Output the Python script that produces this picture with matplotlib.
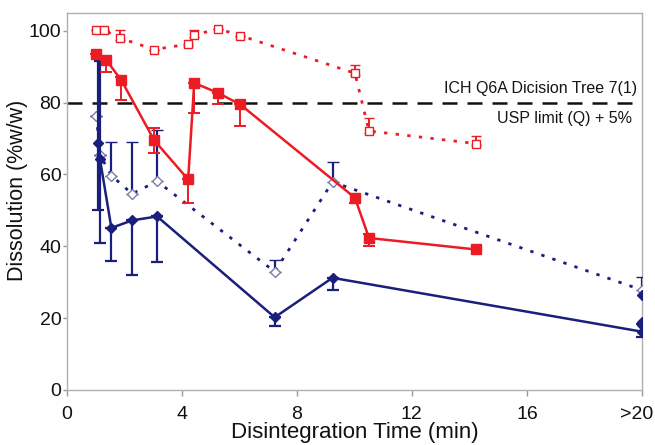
import matplotlib
matplotlib.use("Agg")
import matplotlib.pyplot as plt
import matplotlib.transforms as mtransforms
import numpy as np

plt.rcParams['font.family'] = ['Liberation Sans', 'DejaVu Sans']

# Red solid (filled squares)
rs_x = [1.03, 1.36, 1.9, 3.04, 4.22, 4.43, 5.26, 6.03, 10.02, 10.51, 14.22]
rs_y = [93.6, 92.0, 86.2, 69.5, 58.6, 85.5, 82.7, 79.5, 53.5, 42.3, 39.1]
rs_lo = [0, 3.6, 5.5, 3.5, 6.5, 8.5, 3.2, 6.0, 1.5, 2.3, 0]
rs_hi = [0, 0, 1.0, 3.5, 0, 0, 0, 0, 1.0, 1.0, 0]

# Red dotted (open squares)
rd_x = [1.03, 1.3, 1.85, 3.04, 4.22, 4.43, 5.26, 6.03, 10.02, 10.51, 14.22]
rd_y = [100.3, 100.2, 98.0, 94.8, 96.3, 98.8, 100.6, 98.7, 88.2, 72.1, 68.6]
rd_lo = [0, 0, 0.5, 0, 0.5, 0.5, 0, 0, 0.5, 0.5, 0.5]
rd_hi = [0, 0, 2.3, 0, 0, 1.5, 0, 0, 2.2, 3.6, 2.0]

# Blue solid (filled diamonds)
bs_x = [1.09, 1.15, 1.55, 2.27, 3.14, 7.23, 9.24, 20]
bs_y = [68.7, 64.4, 45.1, 47.2, 48.3, 20.2, 31.2, 16.2]
bs_lo = [18.7, 23.5, 9.3, 15.3, 12.8, 2.4, 3.4, 1.6]
bs_hi = [23.9, 27.3, 0, 0, 0, 0, 0, 2.0]
bs_extra_x = [20, 20]
bs_extra_y = [18.1, 19.0]

# Blue dotted (open diamonds)
bd_x = [1.03, 1.15, 1.55, 2.27, 3.14, 7.23, 9.24, 20]
bd_y = [76.4, 65.5, 59.7, 54.6, 58.1, 32.9, 57.9, 27.8]
bd_lo = [0, 0, 0, 0, 0, 0, 0, 0]
bd_hi = [0, 0, 9.3, 14.4, 14.3, 3.4, 5.5, 3.5]
bd_extra_x = [20]
bd_extra_y = [26.4]

x_ticks = [0, 4, 8, 12, 16, 20]
x_ticklabels = ['0', '4', '8', '12', '16', '>20']
y_ticks = [0, 20, 40, 60, 80, 100]

red = '#ec1c24'
blue = '#1b1f7c'

fig = plt.figure(figsize=(6.55, 4.45), dpi=100)
ax = fig.add_axes([0.102, 0.124, 0.878, 0.847])

ax.axhline(80, color='#111111', lw=1.8, ls=(0, (6, 4)), zorder=1)

# blue dotted
ax.errorbar(bd_x, bd_y, yerr=[bd_lo, bd_hi], color=blue, lw=2.0, ls=(0, (1.2, 3)),
            marker='D', ms=5, mfc='white', mec='#7a7fa8', mew=1.0,
            ecolor=blue, elinewidth=1.6, capsize=4, capthick=1.6, zorder=3)
ax.plot(bd_extra_x, bd_extra_y, ls='none', marker='D', ms=5, color=blue, zorder=4)

# blue solid
ax.errorbar(bs_x, bs_y, yerr=[bs_lo, bs_hi], color=blue, lw=1.8, ls='-',
            marker='D', ms=5, mfc=blue, mec=blue,
            ecolor=blue, elinewidth=1.6, capsize=4, capthick=1.6, zorder=4)
ax.plot(bs_extra_x, bs_extra_y, ls='none', marker='D', ms=5, color=blue, zorder=4)

# red dotted
ax.errorbar(rd_x, rd_y, yerr=[rd_lo, rd_hi], color=red, lw=2.0, ls=(0, (1.2, 3)),
            marker='s', ms=6, mfc='white', mec=red, mew=1.0,
            ecolor=red, elinewidth=1.4, capsize=3.5, capthick=1.4, zorder=3)

# red solid
ax.errorbar(rs_x, rs_y, yerr=[rs_lo, rs_hi], color=red, lw=1.8, ls='-',
            marker='s', ms=7, mfc=red, mec=red,
            ecolor=red, elinewidth=1.4, capsize=4, capthick=1.4, zorder=5)

ax.text(19.85, 81.8, 'ICH Q6A Dicision Tree 7(1)', ha='right', va='bottom',
        fontsize=11.5, color='#151515')
ax.text(19.65, 77.8, 'USP limit (Q) + 5%', ha='right', va='top',
        fontsize=11.5, color='#151515')

ax.set_xlim(0, 20)
ax.set_ylim(0, 105)
ax.set_xticks(x_ticks)
ax.set_xticklabels(x_ticklabels)
ax.set_yticks(y_ticks)
ax.tick_params(axis='x', labelsize=14, length=4, color='#999999', width=1, pad=8)
ax.tick_params(axis='y', labelsize=14, length=3, color='#999999', width=1, pad=1)
for t in ax.get_xticklabels() + ax.get_yticklabels():
    t.set_color('#111111')
# nudge the last x tick label left so it fits in the picture
lbl = ax.get_xticklabels()[-1]
lbl.set_transform(lbl.get_transform() + mtransforms.ScaledTranslation(-5/100, 0, fig.dpi_scale_trans))

for s in ax.spines.values():
    s.set_color('#b0b0b0')
    s.set_linewidth(1.0)

ax.set_xlabel('Disintegration Time (min)', fontsize=16, labelpad=-1, color='#111111')
ax.set_ylabel('Dissolution (%w/w)', fontsize=15.5, color='#111111')
ax.yaxis.set_label_coords(-0.068, 0.53)

fig.savefig('out.png', dpi=100)
